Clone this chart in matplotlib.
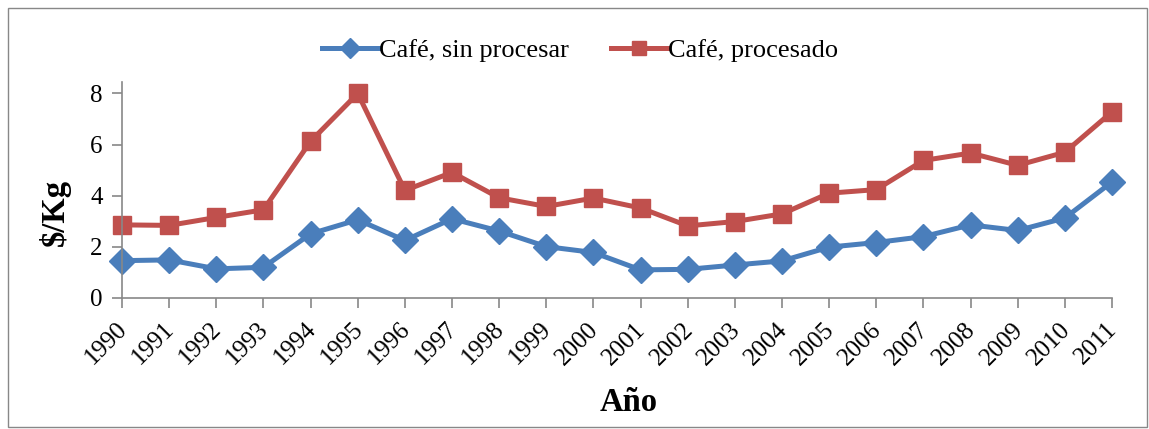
import matplotlib
matplotlib.use("Agg")
from matplotlib import pyplot as plt
from matplotlib.patches import Rectangle
from matplotlib.transforms import ScaledTranslation

years = list(range(1990, 2012))
sin_procesar = [1.46, 1.49, 1.14, 1.20, 2.51, 3.06, 2.25, 3.10, 2.62, 2.01, 1.78,
                1.10, 1.12, 1.29, 1.45, 1.99, 2.17, 2.40, 2.86, 2.64, 3.13, 4.54]
procesado = [2.86, 2.84, 3.15, 3.45, 6.13, 8.00, 4.21, 4.91, 3.92, 3.58, 3.91,
             3.52, 2.82, 2.99, 3.29, 4.10, 4.24, 5.38, 5.67, 5.19, 5.70, 7.28]
labels = ["Café, sin procesar", "Café, procesado"]

plt.rcParams['font.family'] = ['Liberation Serif', 'DejaVu Serif']

fig = plt.figure(figsize=(11.49, 4.29), dpi=100)
# outer chart border
fig.patches.append(Rectangle((0.007, 0.004), 0.991, 0.977, transform=fig.transFigure,
                             fill=False, edgecolor="#888888", linewidth=1))

ax = fig.add_axes([0.1062, 0.3054, 0.8616, 0.5035])
ax.plot(years, sin_procesar, color="#4A7EBB", lw=3.6, marker="D", ms=13, label=labels[0])
ax.plot(years, procesado, color="#C0504D", lw=3.6, marker="s", ms=13, label=labels[1])

ax.set_xlim(1990, 2011)
ax.set_ylim(0, 8.45)
ax.set_yticks([0, 2, 4, 6, 8])
ax.set_xticks(years)
ax.set_xticklabels([str(y) for y in years], rotation=45, ha="right", va="top",
                   rotation_mode="anchor")
ax.tick_params(axis="both", labelsize=18, color="#888888", length=7, width=1.2)
ax.tick_params(axis="x", pad=4)
ax.tick_params(axis="y", pad=7)
# nudge the slanted year labels a little left and down
shift = ScaledTranslation(-0.06, -0.05, fig.dpi_scale_trans)
for lab in ax.get_xticklabels():
    lab.set_transform(lab.get_transform() + shift)
for s in ["top", "right"]:
    ax.spines[s].set_visible(False)
for s in ["left", "bottom"]:
    ax.spines[s].set_color("#888888")
    ax.spines[s].set_linewidth(1.2)
for line in ax.get_lines():
    line.set_clip_on(False)

ax.set_ylabel("$/Kg", fontsize=23.5, fontweight="bold", va="center")
ax.yaxis.set_label_coords(-0.068, 0.398)
ax.set_xlabel("Año", fontsize=23.5, fontweight="bold", va="center")
ax.xaxis.set_label_coords(0.512, -0.486)

ax.legend(loc="center", bbox_to_anchor=(0.505, 0.883), bbox_transform=fig.transFigure,
          ncol=2, frameon=False, fontsize=19, handlelength=2.1, handletextpad=0.05,
          columnspacing=1.6, markerscale=0.8)

fig.savefig("out.png", dpi=100)
